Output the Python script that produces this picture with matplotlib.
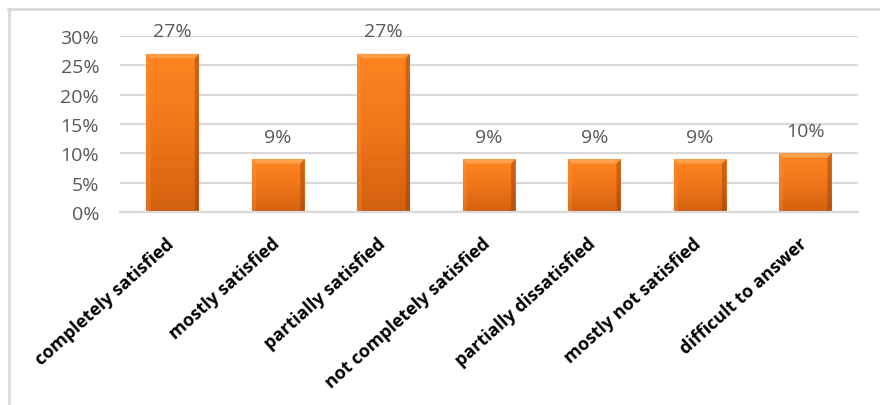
import numpy as np
import matplotlib
matplotlib.use("Agg")
import matplotlib.pyplot as plt
from matplotlib.lines import Line2D
from matplotlib.patches import Polygon
from matplotlib.colors import LinearSegmentedColormap
from matplotlib.transforms import ScaledTranslation

categories = [
    "completely satisfied",
    "mostly satisfied",
    "partially satisfied",
    "not completely satisfied",
    "partially dissatisfied",
    "mostly not satisfied",
    "difficult to answer",
]
shares = [27, 9, 27, 9, 9, 9, 10]
y_ticks = [0, 5, 10, 15, 20, 25, 30]

plt.rcParams["font.family"] = ["Open Sans", "DejaVu Sans"]

W, H = 880, 406
fig = plt.figure(figsize=(W / 100, H / 100), dpi=100)
ax = fig.add_axes([120 / W, 1 - 213 / H, (858 - 120) / W, (213 - 37) / H])

x = np.arange(len(categories))
bars = ax.bar(x, shares, width=0.5, color="#F07A1A", zorder=2, edgecolor="none")

# orange gradient fill (lighter at the top) with soft bevelled edges
grad = np.linspace(0, 1, 256).reshape(-1, 1)
cmap = LinearSegmentedColormap.from_list("bar", ["#FF8420", "#F0761A", "#D2600E"])
for b in bars:
    x0, y0 = b.get_x(), b.get_y()
    w, h = b.get_width(), b.get_height()
    im = ax.imshow(grad, extent=[x0, x0 + w, y0, y0 + h], cmap=cmap,
                   aspect="auto", zorder=2.1, interpolation="bicubic")
    im.set_clip_path(b)
    bx = w * 0.08
    by = 0.75
    top = Polygon([[x0, y0 + h], [x0 + w, y0 + h], [x0 + w - bx, y0 + h - by],
                   [x0 + bx, y0 + h - by]], closed=True, facecolor="#FFB870",
                  edgecolor="none", alpha=0.55, zorder=2.2)
    left = Polygon([[x0, y0], [x0, y0 + h], [x0 + bx, y0 + h - by],
                    [x0 + bx, y0 + by * 0.3]], closed=True, facecolor="#FF9A40",
                   edgecolor="none", alpha=0.3, zorder=2.2)
    right = Polygon([[x0 + w, y0], [x0 + w, y0 + h], [x0 + w - bx, y0 + h - by],
                     [x0 + w - bx, y0 + by * 0.3]], closed=True, facecolor="#8A3604",
                    edgecolor="none", alpha=0.4, zorder=2.2)
    bottom = Polygon([[x0, y0], [x0 + w, y0], [x0 + w - bx, y0 + by * 0.3],
                      [x0 + bx, y0 + by * 0.3]], closed=True, facecolor="#8A3604",
                     edgecolor="none", alpha=0.45, zorder=2.2)
    for p in (top, left, right, bottom):
        ax.add_patch(p)

ax.set_xlim(-0.5, len(categories) - 0.5)
ax.set_ylim(0, 30)
ax.set_yticks(y_ticks)
ax.set_yticklabels([f"{v}%" for v in y_ticks], color="#595959", fontsize=14)
ax.tick_params(axis="y", length=0, pad=15)
ax.yaxis.grid(True, color="#D9D9D9", linewidth=1.6, zorder=0)
ax.set_axisbelow(True)
for s in ("top", "right", "left"):
    ax.spines[s].set_visible(False)
ax.spines["bottom"].set_color("#D9D9D9")
ax.spines["bottom"].set_linewidth(1.6)

ax.set_xticks(x)
ax.set_xticklabels(categories, rotation=42, ha="right", va="top",
                   rotation_mode="anchor", fontsize=13, fontweight="bold",
                   color="black")
ax.tick_params(axis="x", length=0, pad=16)
shift = ScaledTranslation(-5 / 72, 0, fig.dpi_scale_trans)
for lbl in ax.get_xticklabels():
    lbl.set_transform(lbl.get_transform() + shift)

for xi, v in zip(x, shares):
    ax.annotate(f"{v}%", (xi, v), xytext=(0, 16), textcoords="offset points",
                ha="center", va="center", fontsize=14, color="#595959",
                annotation_clip=False)

# chart frame
fig.add_artist(Line2D([8 / W, 1], [1 - 10 / H, 1 - 10 / H], color="#D9D9D9",
                      linewidth=2, transform=fig.transFigure))
fig.add_artist(Line2D([9 / W, 9 / W], [0, 1 - 10 / H], color="#D9D9D9",
                      linewidth=2, transform=fig.transFigure))

fig.savefig("out.png", dpi=100)
